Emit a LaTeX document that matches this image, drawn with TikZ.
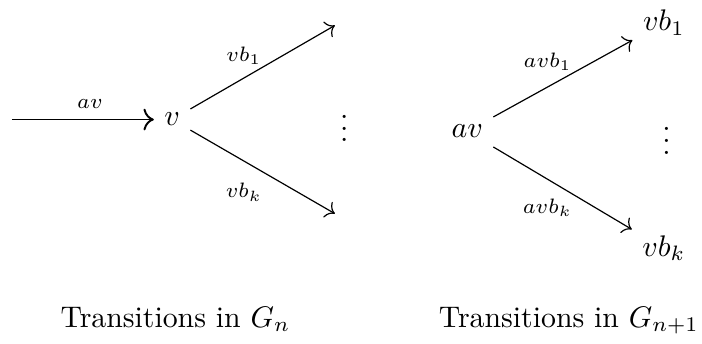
\documentclass[tikz,border=0pt]{standalone}
\usepackage{tikz}
\usetikzlibrary{arrows.meta, positioning}

\begin{document}
\begin{tikzpicture}[
  state/.style={inner sep=3.33pt},
  lbl/.style={font=\scriptsize},
  trans/.style={-{To[scale=1.15]}},
  dots/.style={inner sep=0pt},
]
\useasboundingbox (0,0) rectangle (8.28,4.05);
% transitions in G_n: one incoming edge, k outgoing ones
\coordinate (in) at (0.14,2.64);
\node[state] (v) at (2.03,2.64) {$v$};
\coordinate (outA) at (3.95,3.75);
\coordinate (outK) at (3.95,1.53);
\node[dots] (dotsL) at (4.06,2.64) {$\vdots$};
\draw[trans, line width=0.65pt] (in) -- node[lbl, pos=.55, above] {$av$} (v);
\draw[trans] (v) -- node[lbl, pos=.37, above=1pt] {$vb_1$} (outA);
\draw[trans] (v) -- node[lbl, pos=.37, below=4pt] {$vb_k$} (outK);
% transitions in G_{n+1}: the edge av becomes a state
\node[state] (av) at (5.51,2.50) {$av$};
\node[state] (vb1) at (7.83,3.78) {$vb_1$};
\node[state] (vbk) at (7.83,1.12) {$vb_k$};
\node[dots] (dotsR) at (7.86,2.49) {$\vdots$};
\draw[trans] (av) -- node[lbl, pos=.39, above=2pt] {$avb_1$} (vb1);
\draw[trans] (av) -- node[lbl, pos=.39, below=3pt] {$avb_k$} (vbk);
% captions
\node[anchor=base] (capL) at (2.07,0.19) {Transitions in $G_n$};
\node[anchor=base] (capR) at (6.71,0.19) {Transitions in $G_{n+1}$};
\end{tikzpicture}
\end{document}
